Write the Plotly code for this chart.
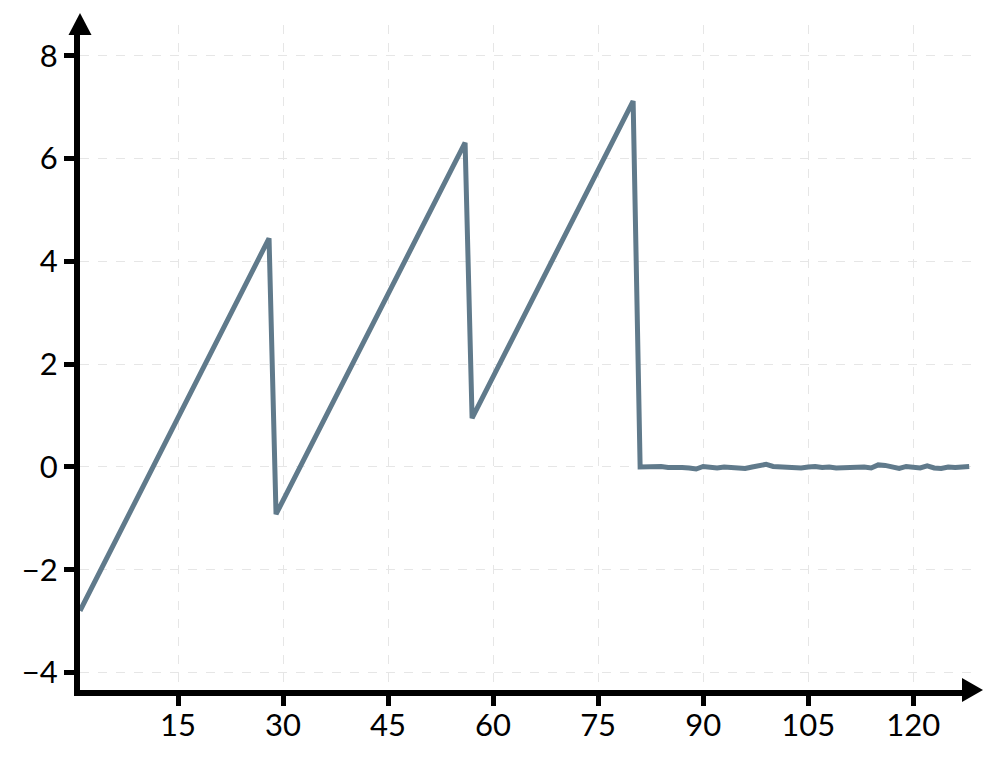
import plotly.graph_objects as go

# sawtooth part: only the corner points, the ramps between them are straight
ramp_x = [1, 28, 29, 56, 57, 80]
ramp_y = [-2.8, 4.45, -0.92, 6.31, 0.95, 7.12]

# flat part after the last drop, small wobble around zero
flat_x = list(range(81, 129))
flat_y = [0.0, 0.01, 0.0, 0.01, -0.01, 0.0, -0.01, -0.02, -0.04, 0.01,
          0.0, -0.02, 0.0, -0.01, -0.03, -0.03, 0.0, 0.03, 0.05, 0.01,
          0.0, -0.01, 0.0, -0.02, 0.0, 0.01, -0.01, 0.0, -0.02, -0.01,
          0.0, -0.01, 0.0, -0.02, 0.04, 0.03, 0.0, -0.03, 0.01, 0.0,
          -0.02, 0.02, -0.02, -0.03, 0.0, -0.01, -0.01, 0.01]

x_ticks = [15, 30, 45, 60, 75, 90, 105, 120]
y_ticks = [-4, -2, 0, 2, 4, 6, 8]

line_col = 'rgb(96,122,139)'

fig = go.Figure()
fig.add_trace(go.Scatter(x=ramp_x + flat_x, y=ramp_y + flat_y, mode='lines',
                         line=dict(color=line_col, width=5), hoverinfo='skip'))

axis_style = dict(showline=True, linecolor='black', linewidth=6,
                  ticks='outside', ticklen=10, tickwidth=5, tickcolor='black',
                  showgrid=True, gridcolor='#e6e6e6', griddash='dash', gridwidth=1,
                  zeroline=False, tickfont=dict(size=31, color='black', family='Lato'))

fig.update_xaxes(range=[1, 128.4], tickvals=x_ticks, ticklabelstandoff=-7, **axis_style)
fig.update_yaxes(range=[-4.34, 8.6], tickvals=y_ticks, **axis_style)

# arrow heads at the ends of both axes
fig.add_shape(type='path', xref='paper', yref='paper', xsizemode='pixel', ysizemode='pixel',
              xanchor=0, yanchor=1, path='M -11.5,-10 L 11.5,-10 L 0,12 Z',
              fillcolor='black', line=dict(width=0), layer='above')
fig.add_shape(type='path', xref='paper', yref='paper', xsizemode='pixel', ysizemode='pixel',
              xanchor=1, yanchor=0, path='M -10,12 L -10,-12 L 11,0 Z',
              fillcolor='black', line=dict(width=0), layer='above')

# page body has an 8px margin, so the margins are shifted by that much
fig.update_layout(width=997, height=763, showlegend=False,
                  plot_bgcolor='white', paper_bgcolor='white',
                  margin=dict(l=72, r=33, t=17, b=81))

fig.write_html("out.html")
